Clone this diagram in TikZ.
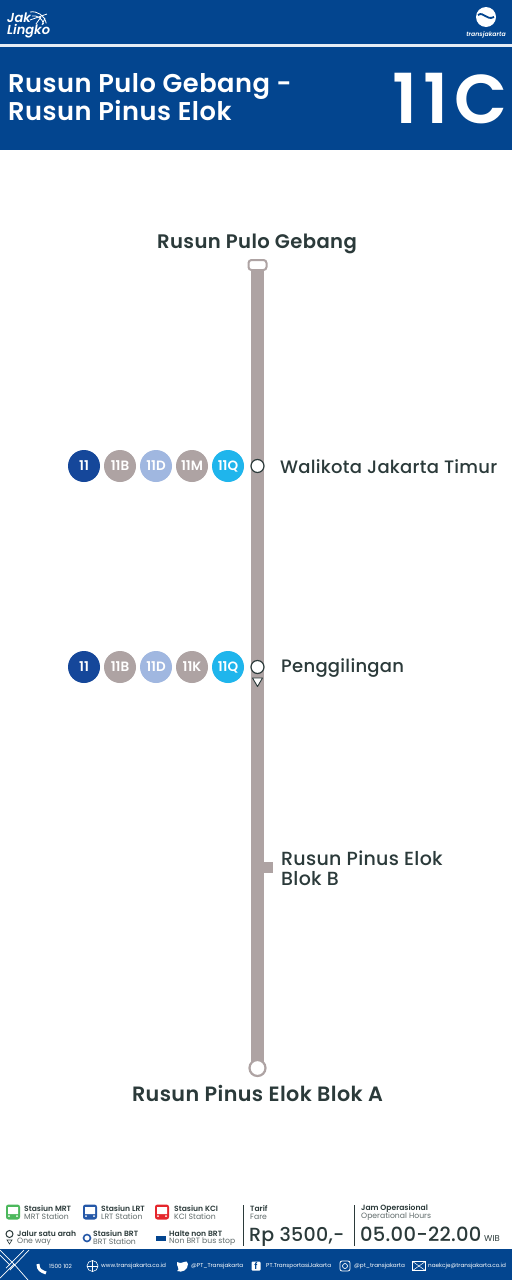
\documentclass[tikz,border=0pt]{standalone}
\usepackage{fontspec}
\setmainfont{Poppins}[BoldFont={Poppins SemiBold}, ItalicFont={Poppins Italic}, BoldItalicFont={Poppins SemiBold Italic}]
\newfontfamily\codefont{Poppins SemiBold}[LetterSpace=9]
\newfontfamily\wideface{Poppins Medium}[LetterSpace=1.5]
\newfontfamily\headface{Poppins SemiBold}[LetterSpace=2]
\definecolor{tjblue}{HTML}{03458F}
\definecolor{linegrey}{HTML}{AEA3A3}
\definecolor{badgeblue}{HTML}{15479A}
\definecolor{badgelight}{HTML}{A0B7E0}
\definecolor{badgecyan}{HTML}{1FB5EC}
\definecolor{inkdark}{HTML}{2B3A3A}
\definecolor{mrtgreen}{HTML}{4CB85C}
\definecolor{lrtblue}{HTML}{2558A8}
\definecolor{kcired}{HTML}{E5262C}
\newcommand{\fs}[1]{\fontsize{#1}{#1}\selectfont}
\tikzset{
  badge/.style={circle, minimum size=32pt, inner sep=0pt, text=white, font=\fs{13.5}\bfseries},
  stopdot/.style={circle, draw=inkdark, fill=white, line width=1.2pt, minimum size=13pt, inner sep=0pt},
  stoplabel/.style={anchor=base west, text=inkdark, inner sep=0pt, font=\fs{18}\wideface},
  endlabel/.style={anchor=base, text=inkdark, inner sep=0pt, font=\fs{19.6}\headface},
  titleline/.style={anchor=base west, text=white, inner sep=0pt, font=\fs{25.7}\headface},
  legendtitle/.style={anchor=west, text=inkdark, inner sep=0pt, font=\fs{7.6}\bfseries},
  legendsub/.style={anchor=west, text=inkdark!75, inner sep=0pt, font=\fs{7.7}},
  footlabel/.style={anchor=west, text=white, inner sep=0pt, font=\fs{5.7}},
  legendicon/.style={rounded corners=2.5pt, minimum width=14pt, minimum height=15pt, inner sep=0pt}
}
\begin{document}
\begin{tikzpicture}[x=1pt, y=-1pt]
  \useasboundingbox (0,0) rectangle (512,1280);
  \fill[white] (0,0) rectangle (512,1280);

  \fill[tjblue] (0,0) rectangle (512,150);
  \fill[white!90!tjblue] (0,44) rectangle (512,46.5);
  \node[anchor=west, text=white, inner sep=0pt, align=left, font=\fs{13}\bfseries\itshape] (jak) at (7,25) {Jak\\[-1pt]Lingko};
  \draw[white, line width=.8pt] (30,12) arc (100:10:14pt) (32,16) arc (100:10:10pt) (30,20) -- (47,14) (36,24) -- (41,17) (42,25) -- (45,18);
  \node[circle, fill=white, minimum size=20pt, inner sep=0pt] (tjlogo) at (486,17) {};
  \draw[tjblue, line width=1.8pt] (478,15) .. controls (484,11) and (486,21) .. (494,17);
  \node[text=white, inner sep=0pt, font=\fs{6.2}\bfseries\itshape] (tjname) at (486,35) {transjakarta};
  \node[titleline] (title1) at (8,92) {Rusun Pulo Gebang -};
  \node[titleline] (title2) at (8,120) {Rusun Pinus Elok};
  \node[anchor=base east, text=white, inner sep=0pt, font=\fs{69}\codefont] (code) at (508,123) {11C};

  \coordinate (linetop) at (257.5,268);
  \coordinate (linebot) at (257.5,1064);
  \draw[linegrey, line width=13pt] (linetop) -- (linebot);
  \node[draw=linegrey, fill=white, line width=2pt, rounded corners=3pt, minimum width=18pt, minimum height=10pt, inner sep=0pt] (first) at (257.5,265) {};
  \node[circle, draw=linegrey, fill=white, line width=2.2pt, minimum size=16pt, inner sep=0pt] (last) at (257.5,1068) {};
  \node[endlabel] (firstname) at (257,248) {Rusun Pulo Gebang};
  \node[endlabel, font=\fs{20.7}\headface] (lastname) at (257.5,1101) {Rusun Pinus Elok Blok A};

  \node[stopdot] (walikota) at (257.5,466) {};
  \node[stoplabel] (walikotaname) at (280,473) {Walikota Jakarta Timur};
  \node[badge, fill=badgeblue] (w11) at (84,466) {11};
  \node[badge, fill=linegrey] (w11b) at (120,466) {11B};
  \node[badge, fill=badgelight] (w11d) at (156,466) {11D};
  \node[badge, fill=linegrey] (w11m) at (192,466) {11M};
  \node[badge, fill=badgecyan] (w11q) at (228,466) {11Q};

  \node[stopdot] (peng) at (257.5,667) {};
  \node[stoplabel] (pengname) at (281,672) {Penggilingan};
  \node[badge, fill=badgeblue] (p11) at (84,667) {11};
  \node[badge, fill=linegrey] (p11b) at (120,667) {11B};
  \node[badge, fill=badgelight] (p11d) at (156,667) {11D};
  \node[badge, fill=linegrey] (p11k) at (192,667) {11K};
  \node[badge, fill=badgecyan] (p11q) at (228,667) {11Q};
  \draw[inkdark, fill=white, line width=.9pt, line join=round] (252.5,678) -- (262.5,678) -- (257.5,686.5) -- cycle;

  \node[stoplabel, font=\fs{19}\wideface] (pinusb) at (281,865) {Rusun Pinus Elok};
  \node[stoplabel, font=\fs{19}\wideface] (pinusc) at (281,885) {Blok B};
  \coordinate (stubin) at (262,867);
  \coordinate (stubout) at (273,867);
  \draw[linegrey, line width=11pt] (stubin) -- (stubout);

  \node[legendicon, fill=mrtgreen] (mrticon) at (13,1212) {};
  \node[legendtitle] (mrt) at (24,1209) {Stasiun MRT};
  \node[legendsub] at (24,1217) {MRT Station};
  \node[legendicon, fill=lrtblue] (lrticon) at (90,1212) {};
  \node[legendtitle] (lrt) at (101,1209) {Stasiun LRT};
  \node[legendsub] at (101,1217) {LRT Station};
  \node[legendicon, fill=kcired] (kciicon) at (162,1212) {};
  \node[legendtitle] (kci) at (174,1209) {Stasiun KCI};
  \node[legendsub] at (174,1217) {KCI Station};
  \fill[white] (8,1207) rectangle (18,1214) (85,1207) rectangle (95,1214) (157,1207) rectangle (167,1214);
  \fill[white] (9,1216) circle (1pt) (17,1216) circle (1pt) (86,1216) circle (1pt) (94,1216) circle (1pt) (158,1216) circle (1pt) (166,1216) circle (1pt);

  \node[circle, draw=inkdark, line width=1pt, minimum size=7pt, inner sep=0pt] (onewayicon) at (9.5,1234) {};
  \draw[inkdark, fill=white, line width=.6pt] (7,1240) -- (12,1240) -- (9.5,1244) -- cycle;
  \node[legendtitle] (oneway) at (17,1233.5) {Jalur satu arah};
  \node[legendsub] at (17,1241.5) {One way};
  \node[circle, draw=lrtblue, line width=1.6pt, minimum size=7pt, inner sep=0pt] (brticon) at (87,1238) {};
  \node[legendtitle] (brt) at (93,1234) {Stasiun BRT};
  \node[legendsub] at (93,1242) {BRT Station};
  \node[fill=tjblue, minimum width=10pt, minimum height=5pt, inner sep=0pt] (nonicon) at (161,1238) {};
  \node[legendtitle] (non) at (169,1233.5) {Halte non BRT};
  \node[legendsub] at (169,1242) {Non BRT bus stop};

  \draw[inkdark, line width=1pt] (243.5,1205) -- (243.5,1246) (354.5,1205) -- (354.5,1246);
  \node[legendtitle] (fare) at (250,1209) {Tarif};
  \node[legendsub] at (250,1217) {Fare};
  \node[anchor=base west, text=inkdark, inner sep=0pt, font=\fs{19}\wideface] (farevalue) at (249,1241) {Rp 3500,-};
  \node[legendtitle] (hours) at (361,1209) {Jam Operasional};
  \node[legendsub] at (361,1217) {Operational Hours};
  \node[anchor=base west, text=inkdark, inner sep=0pt, font=\fs{19.5}\wideface] (hoursvalue) at (360,1241) {05.00-22.00};
  \node[anchor=base west, text=inkdark, inner sep=0pt, font=\fs{8.5}] (wib) at (484,1241) {WIB};

  \fill[tjblue] (0,1249) rectangle (512,1280);
  \draw[white, line width=.7pt] (0,1250) -- (14,1264) -- (0,1278) (0,1255) -- (10,1265) (29,1250) -- (10,1270) (24,1250) -- (6,1268) (14,1264) -- (28,1280);
  \draw[white, line width=3pt] (38,1264) .. controls (38,1270) and (41,1271) .. (46,1273);
  \node[footlabel] (phone) at (49,1266) {1500 102};
  \node[circle, draw=white, line width=.6pt, minimum size=11pt, inner sep=0pt] (globe) at (92.5,1266) {};
  \draw[white, line width=.4pt] (globe.west) -- (globe.east) (globe.north) -- (globe.south);
  \node[footlabel] (web) at (101,1266) {www.transjakarta.co.id};
  \fill[white] (177,1262) .. controls (181,1264) and (183,1262) .. (184,1262) .. controls (186,1260) and (188,1262) .. (188,1264) .. controls (188,1270) and (182,1273) .. (177,1271) .. controls (181,1270) and (176,1266) .. (177,1262) -- cycle;
  \node[footlabel] (twitter) at (191,1266) {@PT\_Transjakarta};
  \node[fill=white, rounded corners=1pt, minimum size=9pt, inner sep=0pt, text=tjblue, font=\fs{9}\bfseries] (fb) at (256,1266) {f};
  \node[footlabel] (facebook) at (266,1266) {PT.TransportasiJakarta};
  \node[draw=white, line width=.8pt, rounded corners=2pt, minimum size=10pt, inner sep=0pt] (insta) at (345,1266) {};
  \draw[white, line width=.7pt] (insta.center) circle (2.5pt);
  \node[footlabel] (instagram) at (354,1266) {@pt\_transjakarta};
  \node[draw=white, line width=.6pt, minimum width=13pt, minimum height=9pt, inner sep=0pt] (mail) at (419,1266) {};
  \draw[white, line width=.5pt] (mail.north west) -- (mail.center) -- (mail.north east) (mail.south west) -- (mail.center) -- (mail.south east);
  \node[footlabel] (email) at (428,1266) {naekcje@transjakarta.co.id};
\end{tikzpicture}
\end{document}
